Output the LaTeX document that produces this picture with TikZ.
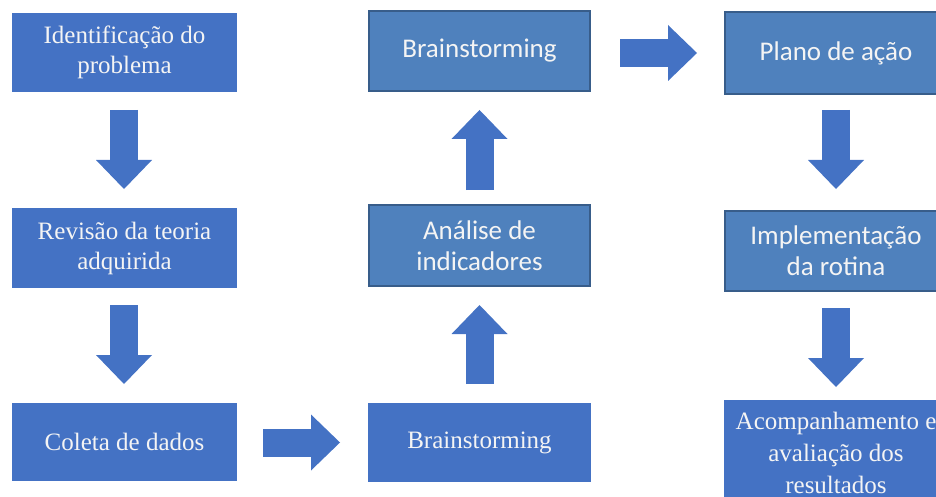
\documentclass[tikz,border=0pt]{standalone}
\usepackage{fontspec}
\setmainfont{Liberation Serif}
\newfontfamily\calib{Carlito}
\usetikzlibrary{arrows.meta}
\definecolor{boxA}{HTML}{4472C4}
\definecolor{boxB}{HTML}{4F81BD}
\definecolor{edgeB}{HTML}{385D8A}
\definecolor{txt}{HTML}{F4F4F4}
\tikzset{
  serifbox/.style={fill=boxA, draw=none, text=txt, align=center, inner sep=0pt,
    font=\fontsize{25}{30}\selectfont},
  calibbox/.style={fill=boxB, draw=edgeB, line width=2.2pt, text=txt, align=center, inner sep=0pt,
    font=\calib\fontsize{27}{31}\selectfont},
  blockarr/.style={draw=boxA, line width=28pt,
    -{Triangle[length=29pt,width=56pt,line width=0pt]}}
}
\begin{document}
\begin{tikzpicture}[x=1pt,y=-1pt]
\useasboundingbox (0,0) rectangle (936,497);
% column 1
\node[serifbox, minimum width=225pt, minimum height=79pt] (n1) at (124.5,52.5) {Identificação do\\problema};
\node[serifbox, minimum width=225pt, minimum height=80pt] (n2) at (124.5,248) {Revisão da teoria\\adquirida};
\node[serifbox, minimum width=225pt, minimum height=78pt] (n3) at (124.5,442) {Coleta de dados};
% column 2
\node[serifbox, minimum width=223pt, minimum height=79pt] (n4) at (479.5,442.5) {Brainstorming};
\node[calibbox, minimum width=221pt, minimum height=81pt] (n5) at (479.5,245.5) {Análise de\\indicadores};
\node[calibbox, minimum width=221pt, minimum height=80pt] (n6) at (479.5,51) {Brainstorming};
% column 3
\node[calibbox, minimum width=222pt, minimum height=82pt] (n7) at (836,53) {Plano de ação};
\node[calibbox, minimum width=222pt, minimum height=80pt] (n8) at (836,251) {Implementação\\da rotina};
\node[serifbox, minimum width=224pt, minimum height=106pt, font=\fontsize{25}{32}\selectfont] (n9) at (836,453) {Acompanhamento e\\avaliação dos\\resultados};
% arrows
\coordinate (a1s) at (124,110); \coordinate (a1e) at (124,189);
\coordinate (a2s) at (124,305); \coordinate (a2e) at (124,384);
\coordinate (a3s) at (263,442.5); \coordinate (a3e) at (340,442.5);
\coordinate (a4s) at (479.5,384); \coordinate (a4e) at (479.5,305);
\coordinate (a5s) at (479.5,190); \coordinate (a5e) at (479.5,110);
\coordinate (a6s) at (620,53); \coordinate (a6e) at (697,53);
\coordinate (a7s) at (836,110); \coordinate (a7e) at (836,189);
\coordinate (a8s) at (836,308); \coordinate (a8e) at (836,387);
\foreach \s/\e in {a1s/a1e,a2s/a2e,a3s/a3e,a4s/a4e,a5s/a5e,a6s/a6e,a7s/a7e,a8s/a8e}
  \draw[blockarr] (\s) -- (\e);
\end{tikzpicture}
\end{document}
